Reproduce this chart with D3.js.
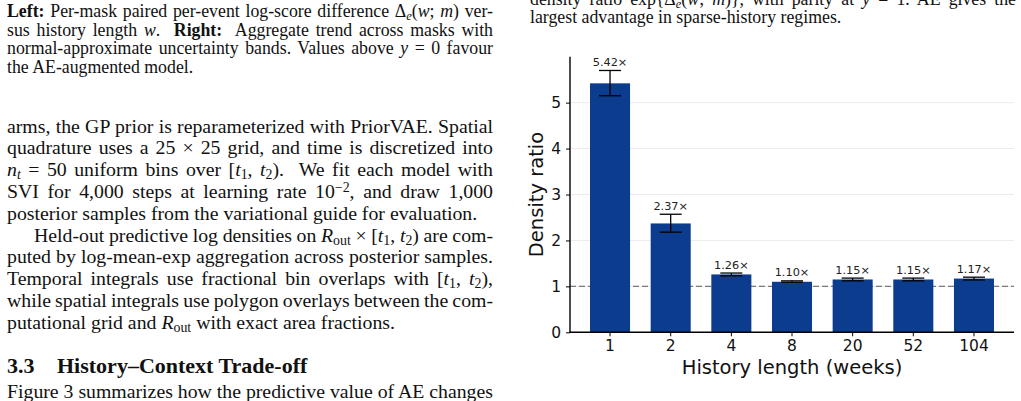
<!DOCTYPE html>
<html><head><meta charset="utf-8">
<script src="https://cdn.jsdelivr.net/npm/d3@7"></script>
<style>
html,body{margin:0;padding:0;background:#fff;overflow:hidden;}
svg{display:block;}
</style></head>
<body>
<svg id="page" width="1021" height="401"></svg>
<script>
// ---------- chart data ----------
const categories = ["1","2","4","8","20","52","104"];
const ratios     = [5.42, 2.37, 1.26, 1.10, 1.15, 1.15, 1.17];
const errLow     = [5.15, 2.18, 1.23, 1.09, 1.12, 1.12, 1.14];
const errHigh    = [5.70, 2.57, 1.29, 1.12, 1.18, 1.18, 1.20];
const yTicks     = [0, 1, 2, 3, 4, 5];
const parity     = 1;
const xLabel = "History length (weeks)";
const yLabel = "Density ratio";

// ---------- surrounding paper text ----------
// segment styles: n normal, b bold, i italic, sub subscript, sup superscript
const rightCaption = [
  {j:true, segs:[["density ratio exp{Δ","n"],["e","subi"],["(","n"],["w","i"],["; ","n"],["m","i"],[")}, with parity at ","n"],["y","i"],[" = 1. AE gives the","n"]]},
  {j:false, segs:[["largest advantage in sparse-history regimes.","n"]]}
];
const leftCaption = [
  {j:true, segs:[["Left:","b"],[" Per-mask paired per-event log-score difference Δ","n"],["e","subi"],["(","n"],["w","i"],["; ","n"],["m","i"],[") ver-","n"]]},
  {j:true, segs:[["sus history length ","n"],["w","i"],[".  ","n"],["Right:","b"],["  Aggregate trend across masks with","n"]]},
  {j:true, segs:[["normal-approximate uncertainty bands. Values above ","n"],["y","i"],[" = 0 favour","n"]]},
  {j:false, segs:[["the AE-augmented model.","n"]]}
];
const bodyLines = [
  {j:true, segs:[["arms, the GP prior is reparameterized with PriorVAE. Spatial","n"]]},
  {j:true, segs:[["quadrature uses a 25 × 25 grid, and time is discretized into","n"]]},
  {j:true, segs:[["n","i"],["t","subi"],[" = 50 uniform bins over [","n"],["t","i"],["1","sub"],[", ","n"],["t","i"],["2","sub"],[").  We fit each model with","n"]]},
  {j:true, segs:[["SVI for 4,000 steps at learning rate 10","n"],["−2","sup"],[", and draw 1,000","n"]]},
  {j:false, segs:[["posterior samples from the variational guide for evaluation.","n"]]},
  {j:true, indent:27, segs:[["Held-out predictive log densities on ","n"],["R","i"],["out","sub"],[" × [","n"],["t","i"],["1","sub"],[", ","n"],["t","i"],["2","sub"],[") are com-","n"]]},
  {j:true, segs:[["puted by log-mean-exp aggregation across posterior samples.","n"]]},
  {j:true, segs:[["Temporal integrals use fractional bin overlaps with [","n"],["t","i"],["1","sub"],[", ","n"],["t","i"],["2","sub"],["),","n"]]},
  {j:true, segs:[["while spatial integrals use polygon overlays between the com-","n"]]},
  {j:false, segs:[["putational grid and ","n"],["R","i"],["out","sub"],[" with exact area fractions.","n"]]}
];
const heading = ["3.3", "History–Context Trade-off"];
const lastLine = {j:true, segs:[["Figure 3 summarizes how the predictive value of AE changes","n"]]};

const svg = d3.select("#page");
const serif = "'Liberation Serif','Times New Roman',serif";

function drawLine(g, line, x, y, width, fs){
  const t = g.append("text").attr("x", x + (line.indent||0)).attr("y", y)
    .attr("font-family", serif).style("font-size", fs+"px").attr("fill","#111")
    .style("white-space","pre");
  line.segs.forEach(([s, st]) => {
    const ts = t.append("tspan").text(s);
    if (st === "b") ts.attr("font-weight","bold");
    if (st === "i") ts.attr("font-style","italic");
    if (st === "sub" || st === "subi") {
      ts.style("font-size", (fs*0.7)+"px").attr("baseline-shift","-22%");
      if (st === "subi") ts.attr("font-style","italic");
    }
    if (st === "sup") ts.style("font-size", (fs*0.7)+"px").attr("baseline-shift","40%");
  });
  if (line.j) {
    const full = line.segs.map(d=>d[0]).join("");
    const nSp = (full.match(/ /g)||[]).length;
    const len = t.node().getComputedTextLength();
    const target = width - (line.indent||0);
    if (nSp > 0) t.style("word-spacing", ((target-len)/nSp) + "px");
  }
  return t;
}

const colW = 486;
const gL = svg.append("g");
leftCaption.forEach((ln,i) => drawLine(gL, ln, 7, 17 + i*18.6, colW, 17.8));
bodyLines.forEach((ln,i) => drawLine(gL, ln, 7, 132.5 + i*21.8, colW, 19.8));
gL.append("text").attr("x",7).attr("y",373).attr("font-family",serif).style("font-size","22px")
  .attr("font-weight","bold").attr("fill","#111").text(heading[0]);
gL.append("text").attr("x",57).attr("y",373).attr("font-family",serif).style("font-size","22px")
  .attr("font-weight","bold").attr("fill","#111").text(heading[1]);
drawLine(gL, lastLine, 7, 398, colW, 19.8);

const gR = svg.append("g");
rightCaption.forEach((ln,i) => drawLine(gR, ln, 530, 4.5 + i*18.6, colW, 17.8));

// ---------- chart ----------
const sans = "'DejaVu Sans', sans-serif";
const plot = {left:570, right:1014, top:56.7, bottom:332.3};
const x = d3.scaleBand().domain(categories).range([plot.left, plot.right])
  .paddingInner(0.34).paddingOuter(0.33);
const y = d3.scaleLinear().domain([0, 6.0]).range([plot.bottom, plot.top]);

const gc = svg.append("g");
// grid
gc.selectAll("line.grid").data(yTicks.filter(d=>d>0)).join("line")
  .attr("x1", plot.left).attr("x2", plot.right)
  .attr("y1", d=>y(d)).attr("y2", d=>y(d))
  .attr("stroke","#ebebeb").attr("stroke-width",1);
// parity line
gc.append("line").attr("x1", plot.left).attr("x2", plot.right)
  .attr("y1", y(parity)).attr("y2", y(parity))
  .attr("stroke","#7a7a7a").attr("stroke-width",1.2).attr("stroke-dasharray","6,3");
// bars
const data = categories.map((c,i)=>({c, v:ratios[i], lo:errLow[i], hi:errHigh[i]}));
gc.selectAll("rect.bar").data(data).join("rect")
  .attr("x", d=>x(d.c)).attr("width", x.bandwidth())
  .attr("y", d=>y(d.v)).attr("height", d=>y(0)-y(d.v))
  .attr("fill","#0c3c8e");
// error bars
const cap = 11;
const cx = d => x(d.c)+x.bandwidth()/2;
const eb = gc.selectAll("g.eb").data(data).join("g");
eb.append("line").attr("x1", cx).attr("x2", cx)
  .attr("y1", d=>y(d.lo)).attr("y2", d=>y(d.hi)).attr("stroke","#000").attr("stroke-width",1.3);
eb.append("line").attr("x1", d=>cx(d)-cap).attr("x2", d=>cx(d)+cap)
  .attr("y1", d=>y(d.hi)).attr("y2", d=>y(d.hi)).attr("stroke","#000").attr("stroke-width",1.3);
eb.append("line").attr("x1", d=>cx(d)-cap).attr("x2", d=>cx(d)+cap)
  .attr("y1", d=>y(d.lo)).attr("y2", d=>y(d.lo)).attr("stroke","#000").attr("stroke-width",1.3);
// value labels
gc.selectAll("text.val").data(data).join("text")
  .attr("x", cx).attr("y", d=>y(d.hi)-4.5)
  .attr("text-anchor","middle").attr("font-family",sans).style("font-size","11.3px").attr("fill","#222")
  .text(d=>d.v.toFixed(2)+"×");

// axes
const yAxis = d3.axisLeft(y).tickValues(yTicks).tickFormat(d3.format("d")).tickSize(4).tickPadding(5);
const ga = gc.append("g").attr("transform",`translate(${plot.left},0)`).call(yAxis);
const xAxis = d3.axisBottom(x).tickSize(4).tickPadding(3.5);
const gx = gc.append("g").attr("transform",`translate(0,${plot.bottom})`).call(xAxis);
[ga,gx].forEach(g=>{
  g.attr("font-size", null).attr("font-family", null);
  g.select(".domain").remove();
  g.selectAll(".tick line").attr("stroke","#000").attr("stroke-width",1);
  g.selectAll(".tick text").attr("font-family",sans).style("font-size","15.5px").attr("fill","#111");
});
gc.append("line").attr("x1",plot.left).attr("x2",plot.left).attr("y1",plot.top).attr("y2",plot.bottom)
  .attr("stroke","#000").attr("stroke-width",1.4);
gc.append("line").attr("x1",plot.left-0.7).attr("x2",plot.right).attr("y1",plot.bottom).attr("y2",plot.bottom)
  .attr("stroke","#000").attr("stroke-width",1.4);

gc.append("text").attr("x",(plot.left+plot.right)/2).attr("y",374)
  .attr("text-anchor","middle").attr("font-family",sans).style("font-size","19.5px").attr("fill","#111").text(xLabel);
gc.append("text").attr("transform",`translate(543,${(plot.top+plot.bottom)/2}) rotate(-90)`)
  .attr("text-anchor","middle").attr("font-family",sans).style("font-size","19.5px").attr("fill","#111").text(yLabel);
</script>
</body></html>
